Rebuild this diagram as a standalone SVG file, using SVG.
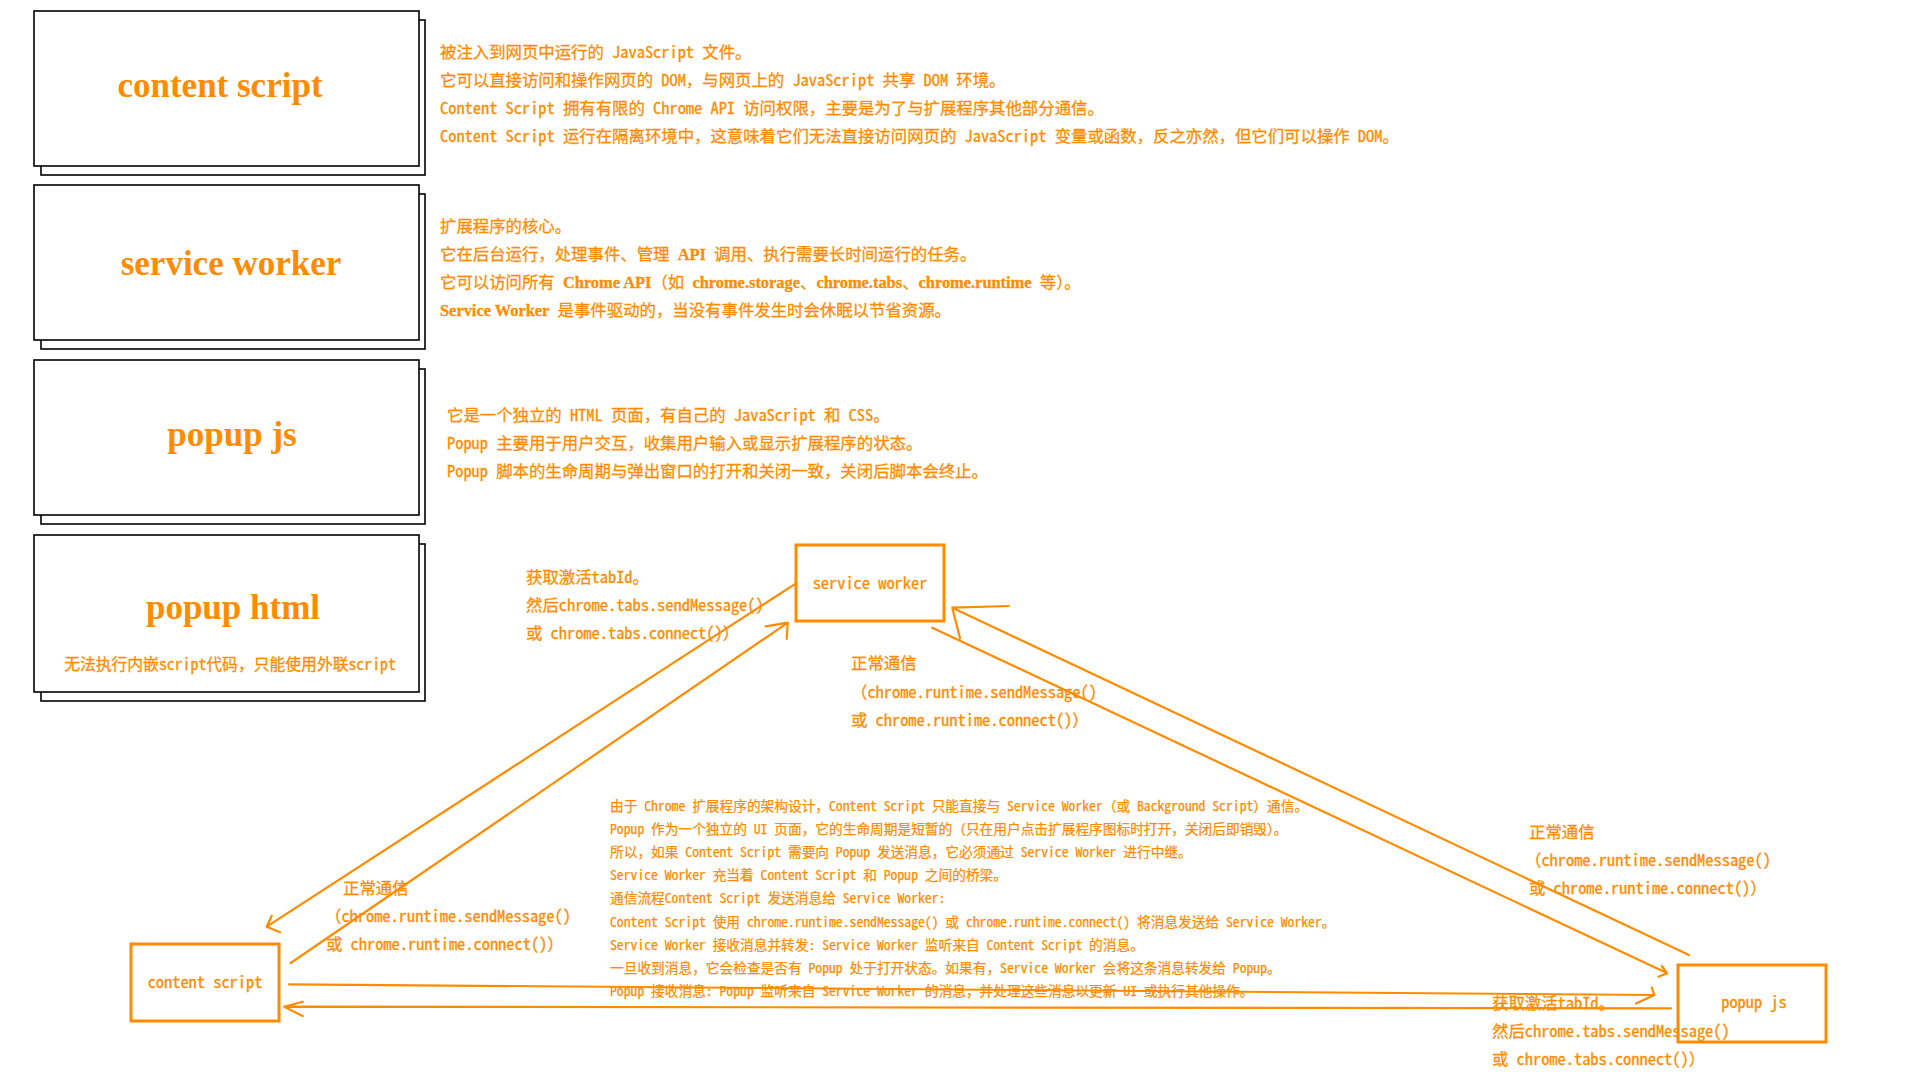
<svg xmlns="http://www.w3.org/2000/svg" width="1920" height="1080" viewBox="0 0 1920 1080">
<style>
.bg{fill:#ffffff}
.card{fill:#ffffff;stroke:#000000;stroke-width:1.6}
.title{font-family:"Liberation Serif","Times New Roman",serif;font-weight:bold;font-size:35px;fill:#FF8C00;text-anchor:middle}
.t{font-family:"Noto Sans Mono CJK SC","Liberation Mono","Noto Sans CJK SC",monospace;font-size:16.4px;fill:#FF8C00;stroke:#FF8C00;stroke-width:0.3}
.s{font-family:"Noto Sans Mono CJK SC","Liberation Mono","Noto Sans CJK SC",monospace;font-size:13.7px;fill:#FF8C00;stroke:#FF8C00;stroke-width:0.25}
.b{font-family:"Liberation Serif","Noto Sans CJK SC",serif;font-weight:bold}
.mid{text-anchor:middle}
.node{fill:#ffffff;stroke:#FF8C00;stroke-width:3}
.conn{fill:none;stroke:#FF8C00;stroke-width:2.2;stroke-linecap:round;stroke-linejoin:round}
</style>
<rect class="bg" x="0" y="0" width="1920" height="1080"/>

<g id="card-content-script">
  <rect class="card" x="41" y="20" width="384" height="155"/>
  <rect class="card" x="34" y="11" width="385" height="155"/>
  <text class="title" x="220" y="96.5">content script</text>
</g>
<g id="card-service-worker">
  <rect class="card" x="41" y="194" width="384" height="155"/>
  <rect class="card" x="34" y="185" width="385" height="155"/>
  <text class="title" x="231" y="274.5">service worker</text>
</g>
<g id="card-popup-js">
  <rect class="card" x="41" y="369" width="384" height="155"/>
  <rect class="card" x="34" y="360" width="385" height="155"/>
  <text class="title" x="232" y="446">popup js</text>
</g>
<g id="card-popup-html">
  <rect class="card" x="41" y="544" width="384" height="157"/>
  <rect class="card" x="34" y="535" width="385" height="157"/>
  <text class="title" x="233" y="619">popup html</text>
  <text class="t mid" x="230" y="669.5" style="font-size:15.8px">无法执行内嵌script代码，只能使用外联script</text>
</g>

<g id="desc-content-script">
  <text class="t" x="440" y="58">被注入到网页中运行的 JavaScript 文件。</text>
  <text class="t" x="440" y="86">它可以直接访问和操作网页的 DOM，与网页上的 JavaScript 共享 DOM 环境。</text>
  <text class="t" x="440" y="113.5">Content Script 拥有有限的 Chrome API 访问权限，主要是为了与扩展程序其他部分通信。</text>
  <text class="t" x="440" y="141.5">Content Script 运行在隔离环境中，这意味着它们无法直接访问网页的 JavaScript 变量或函数，反之亦然，但它们可以操作 DOM。</text>
</g>
<g id="desc-service-worker">
  <text class="t" x="440" y="232">扩展程序的核心。</text>
  <text class="t" x="440" y="259.5">它在后台运行，处理事件、管理 <tspan class="b">API</tspan> 调用、执行需要长时间运行的任务。</text>
  <text class="t" x="440" y="287.5">它可以访问所有 <tspan class="b">Chrome API</tspan>（如 <tspan class="b">chrome.storage</tspan>、<tspan class="b">chrome.tabs</tspan>、<tspan class="b">chrome.runtime</tspan> 等）。</text>
  <text class="t" x="440" y="316"><tspan class="b">Service Worker</tspan> 是事件驱动的，当没有事件发生时会休眠以节省资源。</text>
</g>
<g id="desc-popup-js">
  <text class="t" x="447" y="421">它是一个独立的 HTML 页面，有自己的 JavaScript 和 CSS。</text>
  <text class="t" x="447" y="449">Popup 主要用于用户交互，收集用户输入或显示扩展程序的状态。</text>
  <text class="t" x="447" y="477">Popup 脚本的生命周期与弹出窗口的打开和关闭一致，关闭后脚本会终止。</text>
</g>

<g id="connectors">
  <path class="conn" d="M796,583.3 L266.7,926.7 M271.7,915.7 L266.7,926.7 L280,932.3"/>
  <path class="conn" d="M290.7,963 L787.7,622.7 M765.7,626.3 L787.7,622.7 L786.7,639"/>
  <path class="conn" d="M932.3,627.7 L1667.3,973.3 M1661.7,966 L1667.3,973.3 L1658.3,976.7"/>
  <path class="conn" d="M1689,955 L952.3,607.7 M1008.7,606 L952.3,607.7 L960,638.3"/>
  <path class="conn" d="M289,984.3 L1654.3,995 M1651.7,987.5 L1654.3,995 L1636,1003.5"/>
  <path class="conn" d="M1671,1008.3 L284.3,1006.7 M302.7,1001.7 L284.3,1006.7 L302.7,1016"/>
</g>

<g id="node-service-worker">
  <rect class="node" x="796" y="545" width="148" height="76"/>
  <text class="t mid" x="870" y="589">service worker</text>
</g>
<g id="node-content-script">
  <rect class="node" x="131" y="944" width="148" height="77"/>
  <text class="t mid" x="205" y="988">content script</text>
</g>
<g id="node-popup-js">
  <rect class="node" x="1678" y="965" width="148" height="77"/>
  <text class="t mid" x="1754" y="1008">popup js</text>
</g>

<g id="label-sw-to-cs">
  <text class="t" x="526" y="583">获取激活tabId。</text>
  <text class="t" x="526" y="611">然后chrome.tabs.sendMessage()</text>
  <text class="t" x="526" y="639">或 chrome.tabs.connect()）</text>
</g>
<g id="label-sw-pj">
  <text class="t" x="851" y="669">正常通信</text>
  <text class="t" x="851" y="698">（chrome.runtime.sendMessage()</text>
  <text class="t" x="851" y="726">或 chrome.runtime.connect()）</text>
</g>
<g id="label-cs-sw">
  <text class="t" x="343" y="894">正常通信</text>
  <text class="t" x="325" y="922">（chrome.runtime.sendMessage()</text>
  <text class="t" x="326" y="950">或 chrome.runtime.connect()）</text>
</g>
<g id="label-pj-sw">
  <text class="t" x="1529" y="838">正常通信</text>
  <text class="t" x="1525" y="866">（chrome.runtime.sendMessage()</text>
  <text class="t" x="1529" y="894">或 chrome.runtime.connect()）</text>
</g>
<g id="label-pj-cs">
  <text class="t" x="1492" y="1009">获取激活tabId。</text>
  <text class="t" x="1492" y="1037">然后chrome.tabs.sendMessage()</text>
  <text class="t" x="1492" y="1065">或 chrome.tabs.connect()）</text>
</g>

<g id="note-relay">
  <text class="s" x="610" y="811">由于 Chrome 扩展程序的架构设计，Content Script 只能直接与 Service Worker（或 Background Script）通信。</text>
  <text class="s" x="610" y="834.1">Popup 作为一个独立的 UI 页面，它的生命周期是短暂的（只在用户点击扩展程序图标时打开，关闭后即销毁）。</text>
  <text class="s" x="610" y="857.2">所以，如果 Content Script 需要向 Popup 发送消息，它必须通过 Service Worker 进行中继。</text>
  <text class="s" x="610" y="880.3">Service Worker 充当着 Content Script 和 Popup 之间的桥梁。</text>
  <text class="s" x="610" y="903.4">通信流程Content Script 发送消息给 Service Worker:</text>
  <text class="s" x="610" y="926.5">Content Script 使用 chrome.runtime.sendMessage() 或 chrome.runtime.connect() 将消息发送给 Service Worker。</text>
  <text class="s" x="610" y="949.6">Service Worker 接收消息并转发: Service Worker 监听来自 Content Script 的消息。</text>
  <text class="s" x="610" y="972.7">一旦收到消息，它会检查是否有 Popup 处于打开状态。如果有，Service Worker 会将这条消息转发给 Popup。</text>
  <text class="s" x="610" y="995.8">Popup 接收消息: Popup 监听来自 Service Worker 的消息，并处理这些消息以更新 UI 或执行其他操作。</text>
</g>
</svg>
